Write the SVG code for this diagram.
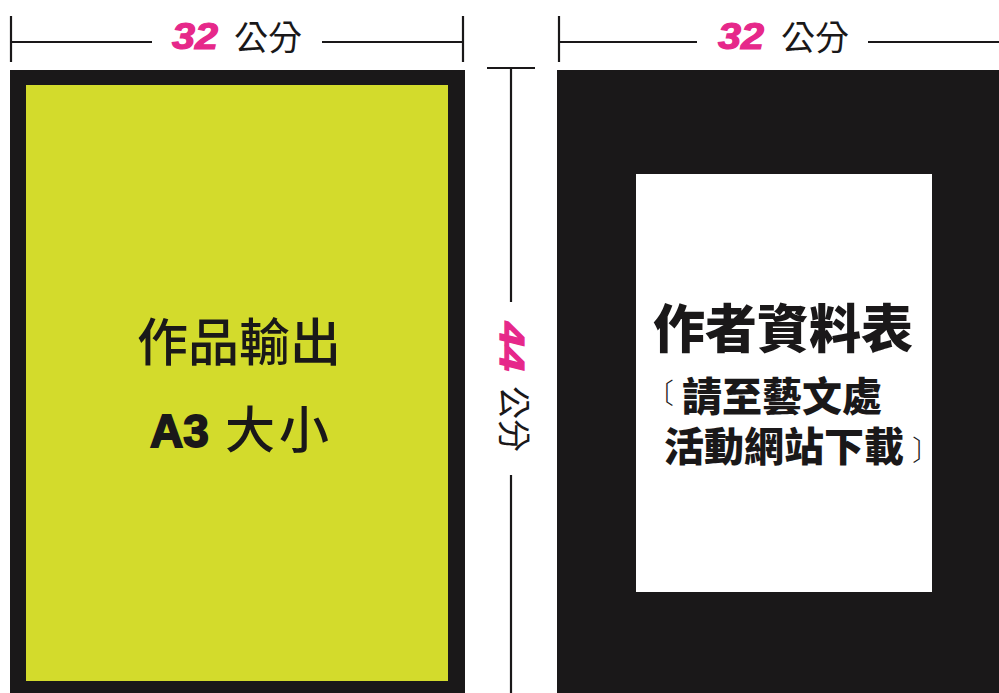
<svg xmlns="http://www.w3.org/2000/svg" width="999" height="693" viewBox="0 0 999 693">
<style>
.dim{stroke:#1a1819;stroke-width:2.2;fill:none}
.num{font-family:"Liberation Sans",Arial,sans-serif;font-weight:bold;font-style:italic;fill:#e6288a;stroke:#e6288a;stroke-width:1.2}
.unit{font-family:"Noto Sans CJK TC","Noto Sans CJK SC",sans-serif;font-weight:400;fill:#1a1819}
.cjk{font-family:"Noto Sans CJK TC","Noto Sans CJK SC",sans-serif;fill:#1a1819}
.br{font-family:"Noto Sans CJK TC","Noto Sans CJK SC",sans-serif;font-weight:300;fill:#1a1819}
.blk{fill:#1a1819}
</style>
<rect width="999" height="693" fill="#ffffff"/>
<g id="dim-left">
<line class="dim" x1="11" y1="16" x2="11" y2="62"/>
<line class="dim" x1="463" y1="16" x2="463" y2="62"/>
<line class="dim" x1="11" y1="42" x2="152" y2="42"/>
<line class="dim" x1="322" y1="42" x2="463" y2="42"/>
<text class="num" x="172" y="49" font-size="36" textLength="46" lengthAdjust="spacingAndGlyphs">32</text>
<text class="unit" x="234" y="50" font-size="34">公分</text>
</g>
<g id="dim-right">
<line class="dim" x1="559" y1="16" x2="559" y2="62"/>
<line class="dim" x1="559" y1="42" x2="697" y2="42"/>
<line class="dim" x1="868" y1="42" x2="999" y2="42"/>
<text class="num" x="718" y="49" font-size="36" textLength="46" lengthAdjust="spacingAndGlyphs">32</text>
<text class="unit" x="781" y="50" font-size="34">公分</text>
</g>
<g id="dim-vertical">
<line class="dim" x1="487" y1="68" x2="535" y2="68"/>
<line class="dim" x1="511" y1="68" x2="511" y2="302"/>
<line class="dim" x1="511" y1="475" x2="511" y2="693"/>
<g transform="translate(500,322) rotate(90)">
<text class="num" x="0" y="0" font-size="35" textLength="49" lengthAdjust="spacingAndGlyphs">44</text>
<text class="unit" x="64" y="-2" font-size="33">公分</text>
</g>
</g>
<g id="artwork">
<rect class="blk" x="10" y="70" width="455" height="623"/>
<rect x="26" y="85" width="422" height="596" fill="#d3db2c"/>
<text class="cjk" x="137" y="361" font-size="51" font-weight="500">作品輸出</text>
<text x="150" y="447" font-size="46" font-family="Liberation Sans,Arial,sans-serif" font-weight="bold" fill="#1a1819" stroke="#1a1819" stroke-width="1.8">A3</text>
<text class="cjk" y="448" font-size="50" font-weight="500"><tspan x="225">大</tspan><tspan x="279">小</tspan></text>
</g>
<g id="info-sheet">
<rect class="blk" x="557" y="70" width="442" height="623"/>
<rect x="636" y="174" width="296" height="418" fill="#ffffff"/>
<text class="cjk" x="653" y="348" font-size="52" font-weight="900">作者資料表</text>
<text class="br" x="646" y="404" font-size="28">〔</text>
<text class="cjk" x="682" y="411" font-size="40" font-weight="900">請至藝文處</text>
<text class="cjk" x="664" y="461" font-size="40" font-weight="900">活動網站下載</text>
<text class="br" x="912" y="461" font-size="28">〕</text>
</g>
</svg>
